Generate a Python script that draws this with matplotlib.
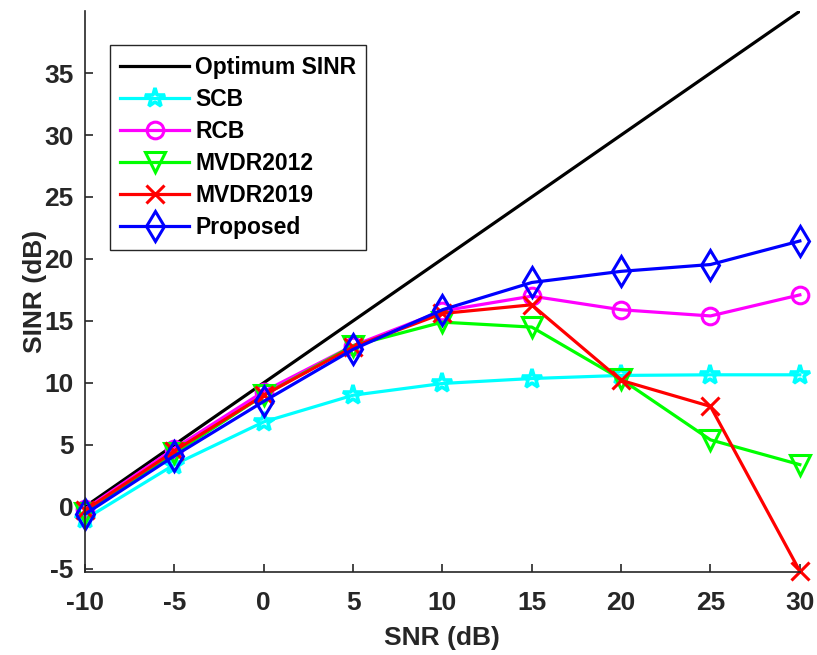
import matplotlib
matplotlib.use('Agg')
import matplotlib.pyplot as plt

plt.rcParams['font.family'] = ['Liberation Sans', 'DejaVu Sans']
plt.rcParams['font.weight'] = 'bold'

snr = [-10, -5, 0, 5, 10, 15, 20, 25, 30]
optimum = [0, 5, 10, 15, 20, 25, 30, 35, 40]
scb = [-1.0, 3.4, 6.85, 9.0, 9.95, 10.35, 10.6, 10.65, 10.65]
rcb = [-0.2, 4.7, 9.3, 13.0, 15.8, 17.0, 15.9, 15.4, 17.1]
mvdr2012 = [-0.5, 4.3, 9.0, 13.0, 14.9, 14.5, 10.3, 5.4, 3.4]
mvdr2019 = [-0.3, 4.5, 9.0, 12.9, 15.6, 16.3, 10.2, 8.1, -5.2]
proposed = [-0.6, 4.1, 8.5, 12.7, 15.9, 18.1, 19.0, 19.55, 21.45]

x_ticks = [-10, -5, 0, 5, 10, 15, 20, 25, 30]
y_ticks = [-5, 0, 5, 10, 15, 20, 25, 30, 35]

fig = plt.figure(figsize=(8.17, 6.55), dpi=100)
ax = fig.add_axes([0.104, 0.127, 0.875, 0.856])

lw = 2.3
mk = dict(markersize=14, markerfacecolor='none', markeredgewidth=2.2, clip_on=False)
ax.plot(snr, optimum, color='black', linewidth=lw, label='Optimum SINR')
ax.plot(snr, scb, color='cyan', linewidth=lw, marker='*', label='SCB',
        **dict(mk, markersize=15, markeredgewidth=2.6))
ax.plot(snr, rcb, color='magenta', linewidth=lw, marker='o', label='RCB',
        **dict(mk, markersize=12))
ax.plot(snr, mvdr2012, color='lime', linewidth=lw, marker='v', label='MVDR2012', **mk)
ax.plot(snr, mvdr2019, color='red', linewidth=lw, marker='x', label='MVDR2019',
        **dict(mk, markersize=13))
ax.plot(snr, proposed, color='blue', linewidth=lw, marker='d', label='Proposed',
        **dict(mk, markersize=15))

ax.set_xlim(-10, 30)
ax.set_ylim(-5.25, 40)
ax.set_xticks(x_ticks)
ax.set_yticks(y_ticks)
ax.set_xticklabels([str(v) for v in x_ticks])
ax.set_yticklabels([str(v) for v in y_ticks])

for side in ['top', 'right']:
    ax.spines[side].set_visible(False)
for side in ['left', 'bottom']:
    ax.spines[side].set_color('#262626')
    ax.spines[side].set_linewidth(1.2)
ax.tick_params(direction='in', length=6, width=1.2, colors='#262626',
               labelsize=19)
ax.tick_params(axis='x', pad=14)
ax.tick_params(axis='y', pad=8)

ax.set_xlabel('SNR (dB)', fontsize=19, fontweight='bold', color='#262626', labelpad=8)
ax.set_ylabel('SINR (dB)', fontsize=19, fontweight='bold', color='#262626', labelpad=-2)

leg = ax.legend(loc='upper left', bbox_to_anchor=(0.035, 0.939), borderaxespad=0,
                fontsize=16.5, handlelength=3.0, handletextpad=0.26,
                labelspacing=0.4, borderpad=0.45, frameon=True, fancybox=False,
                framealpha=1)
leg.get_frame().set_edgecolor('#262626')
leg.get_frame().set_linewidth(1.0)

plt.savefig('out.png', dpi=100)
